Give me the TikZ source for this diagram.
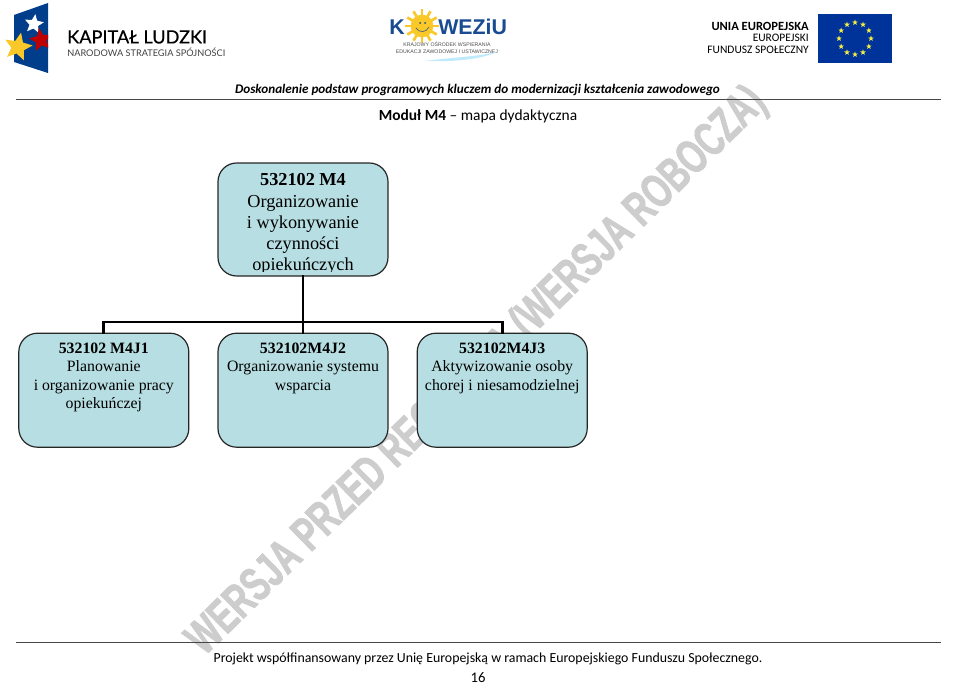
\documentclass[tikz,border=0pt]{standalone}
\usepackage{fontspec}
\setmainfont{Liberation Serif}
\newfontfamily\headfont{Carlito}
\newfontfamily\logofont{Lato}
\newfontfamily\logoheavy[FakeBold=0.5]{Lato}
\newfontfamily\markfont[FakeStretch=0.68,FakeBold=1.5,UprightFont=* Bold]{Liberation Sans}
\newfontfamily\kowfont{Liberation Sans}
\usepackage{xcolor}
\definecolor{boxteal}{RGB}{183,222,226}
\definecolor{flagblue}{RGB}{0,62,140}
\definecolor{eublue}{RGB}{0,51,153}
\definecolor{eustar}{RGB}{240,235,70}
\definecolor{sunyellow}{RGB}{250,200,40}
\definecolor{kowblue}{RGB}{25,75,145}
\definecolor{markgrey}{RGB}{205,205,205}
\definecolor{rulegrey}{RGB}{70,70,70}
\usetikzlibrary{
  positioning,
  shapes.geometric
}
\tikzset{
  unitbox/.style={draw=black!85, line width=0.9pt, rounded corners=14pt, fill=boxteal,
    minimum width=127.5pt, minimum height=85.5pt, inner sep=0pt},
  unittext/.style={align=center, anchor=north, inner sep=0pt,
    font=\fontsize{11.85}{13.9}\selectfont},
  toptext/.style={align=center, anchor=north, inner sep=0pt,
    font=\fontsize{13.7}{15.9}\selectfont},
  treeline/.style={line width=2.2pt, line cap=rect},
  headrule/.style={draw=rulegrey, line width=0.75pt},
  eutext/.style={anchor=east, inner sep=0pt, font=\headfont\fontsize{8.6}{10}\selectfont},
  eustarnode/.style={star, star points=5, star point ratio=2.4, fill=eustar,
    minimum size=4.5pt, inner sep=0pt},
  logostar/.style={star, star points=5, star point ratio=2.2, inner sep=0pt},
}
\begin{document}
\begin{tikzpicture}[x=0.75pt, y=-0.75pt]
  \useasboundingbox (0,0) rectangle (960,685);

  % Watermark, behind everything
  \node[rotate=44.4, text=markgrey, inner sep=0pt,
        font=\markfont\fontsize{36}{36}\selectfont] (watermark) at (477.5,372)
    {WERSJA PRZED RECENZJĄ (WERSJA ROBOCZA)};

  % Left logo
  \begin{scope}
    \clip (0,0) rectangle (48,80);
    \path[fill=flagblue] (14,15) -- (48,3) -- (48,73) -- (14,62) -- cycle;
    \node[logostar, fill=white, minimum size=15pt, rotate=-8] (starwhite) at (34,24) {};
    \node[logostar, fill=red!75!black, minimum size=18pt, rotate=10] (starred) at (41,40) {};
    \node[logostar, fill=sunyellow, minimum size=22pt, rotate=-12] (staryellow) at (18,47) {};
  \end{scope}
  \node[anchor=west, inner sep=0pt, font=\logoheavy\fontsize{13.6}{14}\selectfont] (kapital) at (67,37)
    {KAPITAŁ LUDZKI};
  \node[anchor=west, inner sep=0pt, text=black!75, font=\logofont\fontsize{6.9}{8}\selectfont] (narodowa) at (67,52)
    {NARODOWA STRATEGIA SPÓJNOŚCI};

  % Middle logo
  \foreach \ang in {0,30,...,330}
    \draw[sunyellow, line width=2pt] (422,26) -- ++(\ang:17);
  \node[circle, fill=sunyellow, minimum size=17pt, inner sep=0pt] (sun) at (422,26) {};
  \fill[kowblue] (420,23) circle (1) (425,23) circle (1);
  \draw[kowblue!70!sunyellow, line width=0.6pt] (416,28) .. controls (419,33) and (426,33) .. (429,27);
  \node[text=kowblue, inner sep=0pt, font=\kowfont\bfseries\fontsize{16}{16}\selectfont] (kowk) at (397,27) {K};
  \node[anchor=west, text=kowblue, inner sep=0pt, font=\kowfont\bfseries\fontsize{16}{16}\selectfont] (kowrest) at (438,27) {WEZiU};
  \node[inner sep=0pt, text=black!70, font=\kowfont\fontsize{3.9}{4}\selectfont] (kowone) at (447,44)
    {KRAJOWY OŚRODEK WSPIERANIA};
  \node[inner sep=0pt, text=black!70, font=\kowfont\fontsize{3.9}{4}\selectfont] (kowtwo) at (447,52)
    {EDUKACJI ZAWODOWEJ I USTAWICZNEJ};
  \path[fill=cyan!25] (425,61) .. controls (450,62) and (485,60) .. (500,50)
    .. controls (490,56) and (455,57) .. (425,61) -- cycle;

  % Right logo
  \path[fill=eublue] (818,14) rectangle (892,63);
  \foreach \ang in {0,30,...,330}
    \node[eustarnode] at ([shift={(\ang:16)}]855,38.5) {};
  \node[eutext, font=\headfont\bfseries\fontsize{9.4}{10}\selectfont] (unia) at (809,26) {UNIA EUROPEJSKA};
  \node[eutext] (efs) at (809,38) {EUROPEJSKI};
  \node[eutext] (fundusz) at (809,50) {FUNDUSZ SPOŁECZNY};

  % Header
  \node[inner sep=0pt, font=\headfont\bfseries\itshape\fontsize{9.87}{12}\selectfont] (project) at (477.5,90)
    {Doskonalenie podstaw programowych kluczem do modernizacji kształcenia zawodowego};
  \draw[headrule] (16,99.5) -- (941,99.5);
  \node[inner sep=0pt, font=\headfont\fontsize{11.6}{13}\selectfont] (title) at (478,116.5)
    {\textbf{Moduł M4} – mapa dydaktyczna};

  % Tree
  \node[unitbox, minimum height=84.75pt] (top) at (303,219.5) {};
  \node[unitbox, below=42pt of top] (jtwo) {};
  \node[unitbox, left=21pt of jtwo] (jone) {};
  \node[unitbox, right=21pt of jtwo] (jthree) {};
  \coordinate (bus) at (303,322);
  \draw[treeline] (top.south) -- (jtwo.north);
  \draw[treeline] (jone.north) |- (bus) -| (jthree.north);

  % Box texts
  \begin{scope}
    \clip (218,163) rectangle (388,271.5);
    \node[toptext] (toplabel) at (303,173.5)
      {\textbf{532102 M4}\\Organizowanie\\i wykonywanie\\czynności\\opiekuńczych};
  \end{scope}
  \node[unittext] (jonelabel) at (jone.north |- 0,342.5)
    {\textbf{532102 M4J1}\\Planowanie\\i organizowanie pracy\\opiekuńczej};
  \node[unittext] (jtwolabel) at (jtwo.north |- 0,342.5)
    {\textbf{532102M4J2}\\Organizowanie systemu\\wsparcia};
  \node[unittext] (jthreelabel) at (jthree.north |- 0,342.5)
    {\textbf{532102M4J3}\\Aktywizowanie osoby\\chorej i niesamodzielnej};

  % Footer
  \draw[headrule] (16,642) -- (941,642);
  \node[inner sep=0pt, font=\headfont\fontsize{10.4}{13}\selectfont] (footer) at (488,658.5)
    {Projekt współfinansowany przez Unię Europejską w ramach Europejskiego Funduszu Społecznego.};
  \node[inner sep=0pt, font=\headfont\fontsize{11}{13}\selectfont] (pagenum) at (478,678) {16};
\end{tikzpicture}
\end{document}
